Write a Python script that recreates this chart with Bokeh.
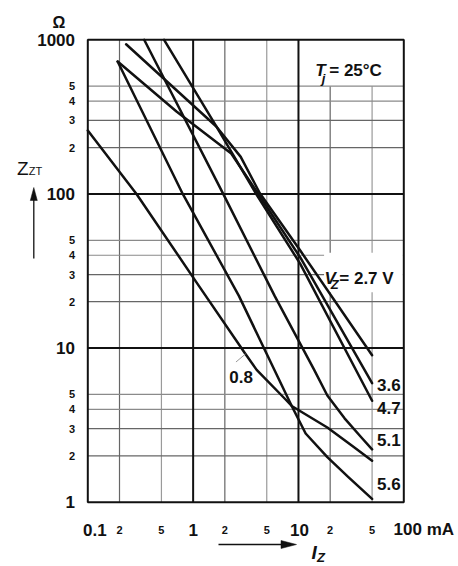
from bokeh.plotting import figure
from bokeh.models import Range1d
from bokeh.core.properties import value
from bokeh.embed import file_html
from bokeh.resources import INLINE

# ---------------- data ----------------
iz_ticks_major = [0.1, 1, 10, 100]
iz_labels_major = ["0.1", "1", "10", "100 mA"]
iz_ticks_minor = [0.2, 0.5, 2, 5, 20, 50]
iz_labels_minor = ["2", "5", "2", "5", "2", "5"]
z_ticks_major = [1, 10, 100, 1000]
z_labels_major = ["1", "10", "100", "1000"]
z_ticks_minor = [2, 3, 4, 5, 20, 30, 40, 50, 200, 300, 400, 500]
z_labels_minor = ["2", "3", "4", "5"] * 3

# Z_ZT (Ohm) versus I_Z (mA) for each V_Z
iz_0v8 = [0.1, 0.29, 1.06, 3.14, 4.01, 7.43, 8.63, 18.8, 33.0, 50]
z_0v8 = [258, 100, 27.1, 9.15, 7.22, 4.69, 4.21, 3.05, 2.3, 1.86]
iz_2v7 = [0.231, 1.66, 2.83, 4.30, 10.4, 50]
z_2v7 = [935, 274, 174, 101, 42.9, 8.99]
iz_3v6 = [0.192, 0.695, 2.30, 4.04, 10.4, 50]
z_3v6 = [723, 343, 183, 103, 38.7, 5.92]
iz_4v7 = [0.53, 1.66, 2.55, 4.04, 10.4, 50]
z_4v7 = [1000, 274, 167, 98, 35.2, 4.55]
iz_5v1 = [0.343, 1.93, 5.94, 14.1, 18.8, 27.4, 39.6, 50]
z_5v1 = [1000, 100, 21.8, 7.22, 4.92, 3.50, 2.63, 2.2]
iz_5v6 = [0.192, 0.797, 2.72, 4.77, 8.63, 11.7, 18.8, 29.6, 50]
z_5v6 = [723, 100, 21.8, 9.8, 4.21, 2.79, 1.96, 1.46, 1.05]

curves = [(iz_0v8, z_0v8), (iz_2v7, z_2v7), (iz_3v6, z_3v6),
          (iz_4v7, z_4v7), (iz_5v1, z_5v1), (iz_5v6, z_5v6)]
end_labels = ["3.6", "4.7", "5.1", "5.6"]

# ---------------- layout ----------------
W, H = 458, 566
LEFT, RIGHT, TOP, BOTTOM = 87.3, 403.3, 39.3, 501.7   # chart border in page pixels
X0, X1, Y0, Y1 = iz_ticks_major[0], iz_ticks_major[-1], z_ticks_major[0], z_ticks_major[-1]
DX = (RIGHT - LEFT) / 3.0
DY = (BOTTOM - TOP) / 3.0
FONT = "Liberation Sans"
INK = "#111111"


def at(sx, sy):
    """page pixel -> data coordinates (used for texts outside the chart border)"""
    return X0 * 10 ** ((sx - LEFT) / DX), Y0 * 10 ** ((BOTTOM - sy) / DY)


x_rng = Range1d(X0 * 10 ** (-LEFT / DX), X1 * 10 ** ((W - RIGHT) / DX))
y_rng = Range1d(Y0 * 10 ** (-(H - BOTTOM) / DY), Y1 * 10 ** (TOP / DY))

p = figure(width=W, height=H, x_axis_type="log", y_axis_type="log",
           x_range=x_rng, y_range=y_rng, min_border=0,
           output_backend="svg", toolbar_location=None)
p.axis.visible = False
p.xgrid.visible = False
p.ygrid.visible = False
p.outline_line_color = None
p.background_fill_color = "white"
p.border_fill_color = "white"


def txt(x, y, text, size="17px", style="bold", align="left", base="alphabetic",
        x_offset=0, color=INK):
    n = len(text)
    p.text(x=x, y=y, text=text, text_font=value(FONT), text_font_size=value(size),
           text_font_style=value(style), text_align=value(align),
           text_baseline=value(base), text_color=color,
           x_offset=x_offset if isinstance(x_offset, list) else [x_offset] * n)


# ---------------- grid ----------------
vcol = ["#666666", "#9a9a9a"] * 3
vx = [[t, t] for t in iz_ticks_minor]
vy = [[Y0, 500 if t >= 20 else Y1] for t in iz_ticks_minor]   # open field for T_j label
p.multi_line(vx, vy, line_color=vcol, line_width=1.2)
hcol = ["#666666", "#666666", "#8a8a8a", "#8a8a8a"] * 3
p.multi_line([[X0, X1] for t in z_ticks_minor], [[t, t] for t in z_ticks_minor],
             line_color=hcol, line_width=1.2)
p.multi_line([[t, t] for t in iz_ticks_major[1:-1]], [[Y0, Y1]] * 2,
             line_color=INK, line_width=2)
p.multi_line([[X0, X1]] * 2, [[t, t] for t in z_ticks_major[1:-1]],
             line_color=INK, line_width=2)

# white field behind the V_Z label
p.quad(left=[17.5], right=[98], bottom=[23], top=[41.5], fill_color="white",
       line_color=None)

# chart border
p.quad(left=[X0], right=[X1], bottom=[Y0], top=[Y1], fill_color=None,
       line_color=INK, line_width=2)

# ---------------- curves ----------------
for xs, ys in curves:
    p.line(xs, ys, line_color=INK, line_width=2.5, line_join="round", line_cap="round")

# leader for the 0.8 label
p.line([2.55, 3.14], [8.12, 9.15], line_color="#999999", line_width=1)

# ---------------- texts inside the chart ----------------
txt([55.7] * 4, [5.79, 4.08, 2.53, 1.31], end_labels, base="middle")
txt([2.2], [6.45], ["0.8"], base="middle")

txt([17.7], [28.3], ["V"], style="bold italic")
txt([20.2], [26.0], ["Z"], size="13px", style="bold italic")
txt([24.4], [28.3], ["= 2.7 V"])

txt([14.4], [635], ["T"], style="bold italic")
txt([16.6], [560], ["j"], size="13px", style="bold italic")
txt([19.6], [635], ["= 25°C"])

# ---------------- tick labels ----------------
xl = at(74.5, 0)[0]
txt([xl] * 4, z_ticks_major, z_labels_major, align="right", base="middle")
txt([xl] * 12, z_ticks_minor, z_labels_minor, size="11px", align="right", base="middle")
yl = at(0, 529)[1]
txt(iz_ticks_major, [yl] * 4, iz_labels_major, align="center", x_offset=[7, 0, 1, 20])
txt(iz_ticks_minor, [yl] * 6, iz_labels_minor, size="11px", align="center")

# ---------------- unit and axis titles ----------------
x, y = at(58.3, 21.7)
txt([x], [y], ["Ω"], size="16px", align="center")
x, y = at(16.5, 168)
txt([x], [y], ["Z"], size="19px", style="normal")
x, y = at(28.3, 170)
txt([x], [y], ["ZT"], size="11px", style="normal")
x, y = at(311, 552)
txt([x], [y], ["I"], size="19px", style="bold italic")
x, y = at(316.5, 557)
txt([x], [y], ["Z"], size="13px", style="bold italic")

# arrows (shaft + head)
ax0, ay0 = at(33.3, 258)
_, ay1 = at(33.3, 199)
p.segment(x0=[ax0], y0=[ay0], x1=[ax0], y1=[ay1], line_color=INK, line_width=1.3)
hx = [at(33.3, 187)[0], at(29.8, 200)[0], at(36.8, 200)[0]]
hy = [at(33.3, 187)[1], at(29.8, 200)[1], at(36.8, 200)[1]]
p.patch(hx, hy, fill_color=INK, line_color=INK, line_width=0.5)

bx0, by = at(218, 544)
bx1, _ = at(282, 544)
p.segment(x0=[bx0], y0=[by], x1=[bx1], y1=[by], line_color=INK, line_width=1.3)
hx = [at(296, 544)[0], at(280.5, 540)[0], at(280.5, 548)[0]]
hy = [at(296, 544)[1], at(280.5, 540)[1], at(280.5, 548)[1]]
p.patch(hx, hy, fill_color=INK, line_color=INK, line_width=0.5)

open("out.html", "w").write(file_html(p, INLINE))
